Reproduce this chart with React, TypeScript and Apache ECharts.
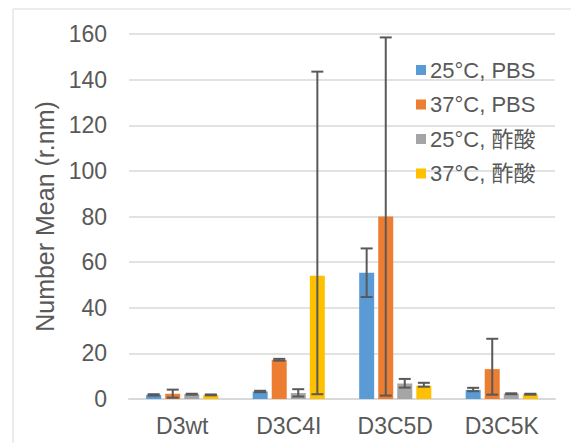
import React, { useEffect, useRef } from "react";
import * as echarts from "echarts";

const categories = ["D3wt", "D3C4I", "D3C5D", "D3C5K"];
const seriesNames = ["25°C, PBS", "37°C, PBS", "25°C, 酢酸", "37°C, 酢酸"];
const colors = ["#5B9BD5", "#ED7D31", "#A5A5A5", "#FFC000"];

const blue = [1.8, 3.3, 55.3, 4.0];
const orange = [2.3, 17.2, 80, 13.1];
const gray = [2.1, 2.6, 6.8, 2.3];
const yellow = [1.8, 54, 5.8, 2.1];

// error bar [low, high] per category
const blueErr = [[1.5, 2.1], [3.0, 3.6], [44.7, 66], [3.4, 4.9]];
const orangeErr = [[0.6, 4.1], [16.8, 17.6], [1.5, 158.5], [1.9, 26.4]];
const grayErr = [[1.9, 2.3], [1.1, 4.3], [5.0, 8.8], [2.1, 2.5]];
const yellowErr = [[1.6, 2.0], [2.1, 143.5], [5.4, 7.1], [1.9, 2.3]];

const yTicks = { min: 0, max: 160, interval: 20 };

const FONT = "Arial, 'Liberation Sans', 'Noto Sans CJK JP', sans-serif";
const TEXT = "#595959";

export default function App() {
  const ref = useRef<HTMLDivElement>(null);
  useEffect(() => {
    if (!ref.current) return;
    const chart = echarts.init(ref.current, null, { renderer: "svg" });
    const values = [blue, orange, gray, yellow];
    const errs = [blueErr, orangeErr, grayErr, yellowErr];
    const offsets = [-28.6, -9.5, 9.5, 28.6];

    const barSeries = values.map((v, i) => ({
      name: seriesNames[i],
      type: "bar",
      data: v,
      barWidth: 15,
      barGap: "27%",
      itemStyle: { color: colors[i] },
      z: 2,
    }));

    const errSeries = errs.map((e, i) => ({
      name: seriesNames[i] + "_err",
      type: "custom",
      data: e.map((lh, c) => [c, lh[0], lh[1]]),
      encode: { x: 0, y: [1, 2] },
      z: 5,
      silent: true,
      renderItem: (params: any, api: any) => {
        const c = api.value(0);
        const x = api.coord([c, 0])[0] + offsets[i];
        const yl = api.coord([c, api.value(1)])[1];
        const yh = api.coord([c, api.value(2)])[1];
        const style = { stroke: "#595959", lineWidth: 2 };
        const half = 6;
        return {
          type: "group",
          children: [
            { type: "line", shape: { x1: x, y1: yl, x2: x, y2: yh }, style },
            { type: "line", shape: { x1: x - half, y1: yh, x2: x + half, y2: yh }, style },
            { type: "line", shape: { x1: x - half, y1: yl, x2: x + half, y2: yl }, style },
          ],
        };
      },
    }));

    chart.setOption({
      animation: false,
      textStyle: { fontFamily: FONT },
      graphic: [
        {
          type: "rect",
          shape: { x: 13, y: 9, width: 620, height: 500 },
          style: { fill: "none", stroke: "#D9D9D9", lineWidth: 1 },
          silent: true,
        },
      ],
      grid: { left: 129, right: 16, top: 34, bottom: 44 },
      legend: {
        data: seriesNames,
        orient: "vertical",
        left: 411,
        top: 54,
        icon: "rect",
        itemWidth: 10,
        itemHeight: 10,
        itemGap: 12.5,
        textStyle: { color: TEXT, fontSize: 22, fontFamily: FONT, lineHeight: 22, padding: [0, 0, 0, -1] },
      },
      xAxis: {
        type: "category",
        data: categories,
        axisTick: { show: false },
        axisLine: { lineStyle: { color: "#D9D9D9", width: 2 } },
        axisLabel: { color: TEXT, fontSize: 23, margin: 15, fontFamily: FONT },
      },
      yAxis: {
        type: "value",
        min: yTicks.min,
        max: yTicks.max,
        interval: yTicks.interval,
        name: "Number Mean (r.nm)",
        nameLocation: "middle",
        nameGap: 70,
        nameTextStyle: { color: TEXT, fontSize: 25, fontFamily: FONT },
        axisLine: { show: false },
        axisTick: { show: false },
        axisLabel: { color: TEXT, fontSize: 23, margin: 22, fontFamily: FONT },
        splitLine: { lineStyle: { color: "#D9D9D9", width: 1.5 } },
      },
      series: [...barSeries, ...errSeries],
    });
    return () => chart.dispose();
  }, []);
  return (
    <div
      ref={ref}
      style={{ position: "fixed", left: 0, top: 0, width: 571, height: 443, background: "#fff" }}
    />
  );
}
